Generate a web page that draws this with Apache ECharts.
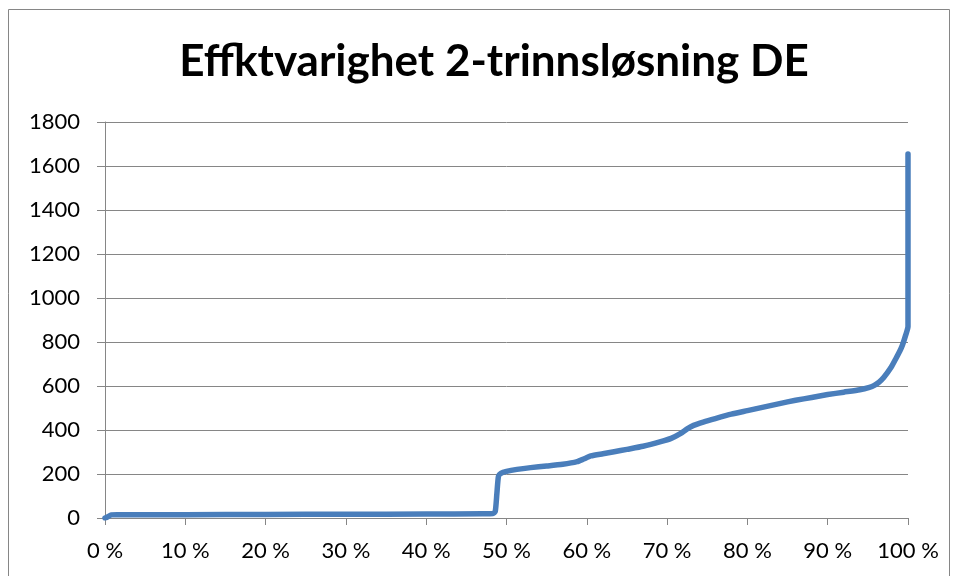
<!DOCTYPE html>
<html>
<head>
<meta charset="utf-8">
<script src="https://cdn.jsdelivr.net/npm/echarts@6/dist/echarts.min.js"></script>
<style>html,body{margin:0;padding:0;background:#fff}#c{width:957px;height:576px}</style>
</head>
<body>
<div id="c"></div>
<script>
const titleText = 'Effktvarighet 2-trinnsløsning DE';
const pct = [0, 0.3, 0.8, 1.5, 10, 20, 30, 40, 47, 48.3, 48.6, 48.8, 49.0, 49.3, 50, 51.3, 53, 55, 57, 58.8, 59.6, 60.5, 62, 63.4, 65, 67, 69.2, 70.5, 71.7, 72.5, 73.3, 74.5, 76, 78, 80, 82, 84, 86, 88, 90, 92, 94, 95.2, 95.8, 96.4, 97, 97.9, 98.5, 99, 99.3, 99.7, 100, 100];
const power = [0, 5, 14, 15, 15, 16, 17, 18, 19, 20, 30, 110, 190, 203, 212, 221, 229, 236, 244, 256, 268, 282, 292, 301, 312, 326, 347, 362, 385, 405, 421, 436, 452, 472, 488, 504, 520, 535, 548, 561, 572, 583, 594, 603, 618, 640, 685, 725, 760, 785, 830, 870, 1655];
const yTicks = [0, 200, 400, 600, 800, 1000, 1200, 1400, 1600, 1800];

const chart = echarts.init(document.getElementById('c'));
const font = 'Lato';
chart.setOption({
  animation: false,
  backgroundColor: '#fff',
  title: {
    text: titleText, left: 489, textAlign: 'center', top: 35,
    textStyle: { fontFamily: font, fontWeight: 'bold', fontSize: 44, color: '#000' }
  },
  graphic: [{
    type: 'rect', shape: { x: 8.5, y: 9.5, width: 941, height: 600 },
    style: { fill: 'none', stroke: '#868686', lineWidth: 1 }, silent: true
  }],
  grid: { left: 105, right: 49, top: 122, bottom: 58 },
  xAxis: {
    type: 'value', min: 0, max: 100, interval: 10,
    axisLine: { show: true, lineStyle: { color: '#868686', width: 1 } },
    axisTick: { show: true, length: 7, lineStyle: { color: '#868686' } },
    splitLine: { show: false },
    axisLabel: { formatter: '{value} %', fontFamily: font, fontSize: 22, color: '#000', margin: 22 }
  },
  yAxis: {
    type: 'value', min: 0, max: 1800, interval: 200,
    axisLine: { show: true, lineStyle: { color: '#868686', width: 1 } },
    axisTick: { show: true, length: 8, lineStyle: { color: '#868686' } },
    splitLine: { show: true, lineStyle: { color: '#868686', width: 1 } },
    axisLabel: { formatter: v => String(v), fontFamily: font, fontSize: 22, color: '#000', margin: 25 }
  },
  series: [{
    type: 'line', showSymbol: false, smooth: 0.2,
    data: pct.map((p, i) => [p, power[i]]),
    lineStyle: { color: '#4A7EBB', width: 5.5, cap: 'round', join: 'round' },
    itemStyle: { color: '#4A7EBB' }
  }]
});
</script>
</body>
</html>
